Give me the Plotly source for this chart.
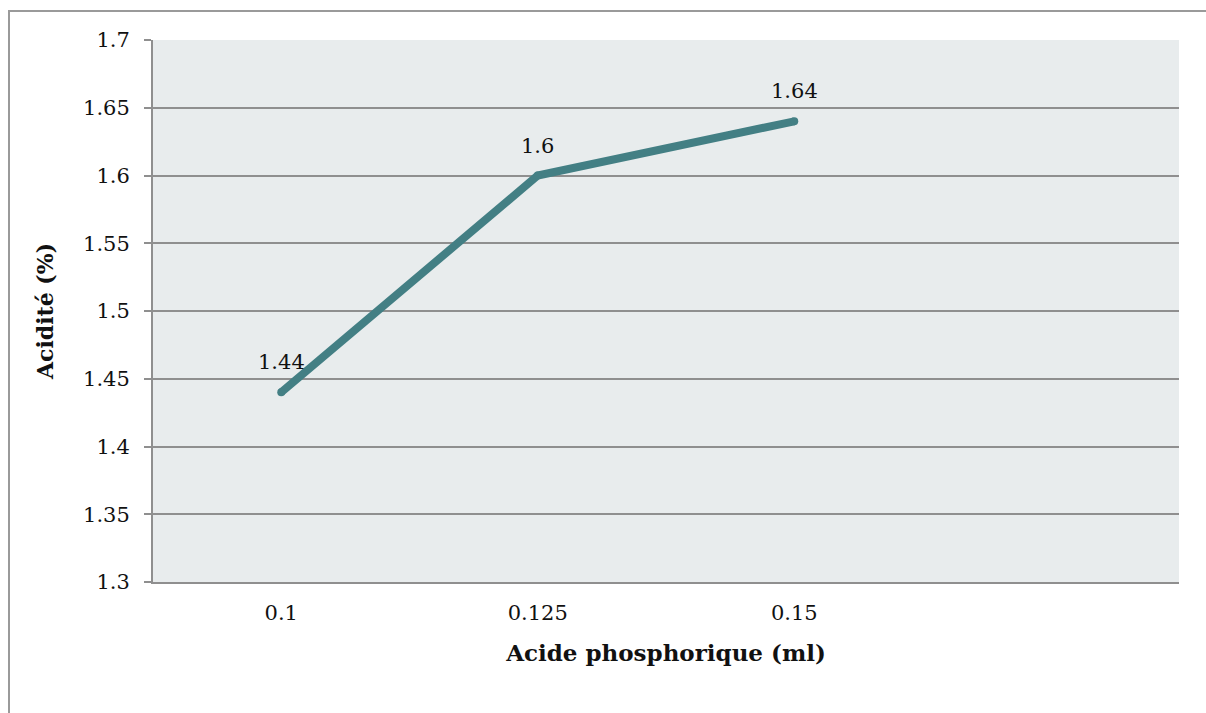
import plotly.graph_objects as go

categories = ["0.1", "0.125", "0.15"]
acidity = [1.44, 1.6, 1.64]
labels = ["1.44", "1.6", "1.64"]
ytick_vals = [1.3, 1.35, 1.4, 1.45, 1.5, 1.55, 1.6, 1.65, 1.7]
ytick_text = ["1.3", "1.35", "1.4", "1.45", "1.5", "1.55", "1.6", "1.65", "1.7"]

FONT = "DejaVu Serif"
LINE_COLOR = "#437F84"
GRID = "#8F8F8F"

fig = go.Figure()
fig.add_trace(go.Scatter(
    x=categories, y=acidity, mode="lines+markers",
    line=dict(color=LINE_COLOR, width=8),
    marker=dict(color=LINE_COLOR, size=8, line=dict(width=0)),
    cliponaxis=False, hoverinfo="skip",
))

# data labels: on a category axis, annotation x is the category index
for i, (v, t) in enumerate(zip(acidity, labels)):
    fig.add_annotation(x=i, y=v, text=t, showarrow=False, yshift=30,
                       xanchor="center", yanchor="middle",
                       font=dict(family=FONT, size=21, color="#111111"))

W, H = 1206, 713
L, R, T, B = 153, 27, 40, 131
pw, ph = W - L - R, H - T - B

def px_x(v):
    return (v - L) / pw

def px_y(v):
    return (H - B - v) / ph

fig.add_shape(type="rect", xref="paper", yref="paper",
              x0=px_x(9), x1=px_x(1215), y0=px_y(725), y1=px_y(11),
              line=dict(color="#9A9A9A", width=2), fillcolor="rgba(0,0,0,0)",
              layer="below")

fig.update_layout(
    width=W, height=H,
    margin=dict(l=L, r=R, t=T, b=B),
    paper_bgcolor="white", plot_bgcolor="#E8ECED",
    showlegend=False,
    font=dict(family=FONT, color="#111111"),
    xaxis=dict(
        type="category", range=[-0.5, 3.5],
        showgrid=False, showline=True, linecolor=GRID, linewidth=2,
        ticks="", tickfont=dict(family=FONT, size=21), ticklabelstandoff=11,
        title=dict(text="<b>Acide phosphorique (ml)</b>",
                   font=dict(family=FONT, size=23), standoff=21),
        fixedrange=True,
    ),
    yaxis=dict(
        range=[1.3, 1.7], tickvals=ytick_vals, ticktext=ytick_text,
        showgrid=True, gridcolor=GRID, gridwidth=2,
        showline=True, linecolor=GRID, linewidth=2,
        ticks="outside", ticklen=7, tickcolor=GRID, tickwidth=2,
        tickfont=dict(family=FONT, size=21), ticklabelstandoff=10,
        zeroline=False,
        title=dict(text="<b>Acidité (%)</b>",
                   font=dict(family=FONT, size=22), standoff=23),
        fixedrange=True,
    ),
)

fig.write_html("out.html")
